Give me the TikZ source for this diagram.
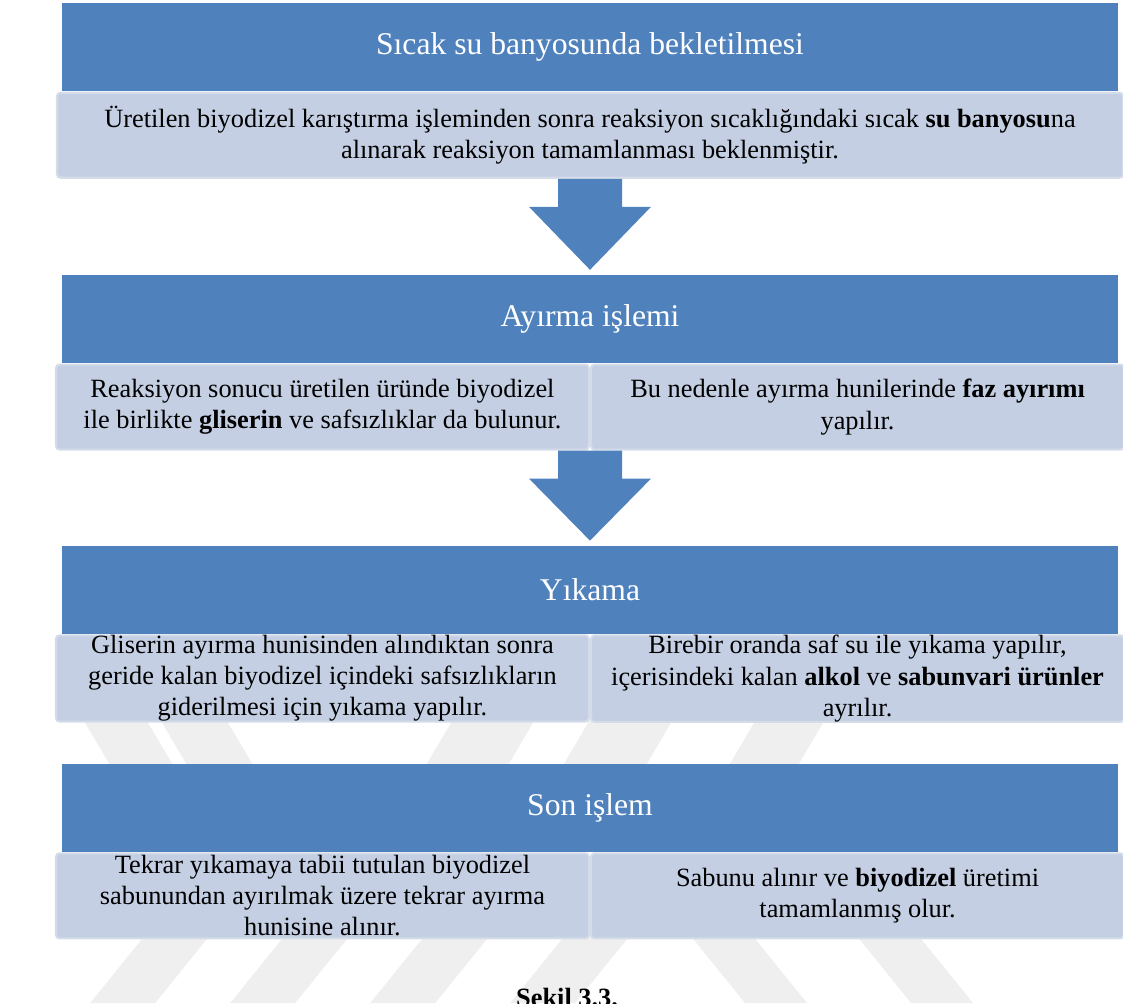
\documentclass[tikz,border=0pt]{standalone}
\usepackage{fontspec}
\setmainfont{Liberation Serif}
\usepackage{xcolor}
\usepackage{tikz}
\usetikzlibrary{positioning,calc}

\definecolor{hdrblue}{HTML}{4F81BD}
\definecolor{detfill}{HTML}{C4CFE3}
\definecolor{detline}{HTML}{D4DCEA}
\definecolor{wmgray}{HTML}{EFEFEF}

\begin{document}
\begin{tikzpicture}[hdr/.style={fill=hdrblue, text=white, minimum width=21.12cm, minimum height=1.76cm, inner sep=0pt, font=\fontsize{18}{22}\selectfont}, det/.style={fill=detfill, draw=detline, line width=1.2pt, rounded corners=2pt, align=center, minimum width=21.32cm, minimum height=1.70cm, inner sep=0pt, font=\fontsize{15}{17.7}\selectfont}, half/.style={det, minimum width=10.66cm}]
\useasboundingbox (0,0) rectangle (22.46,-20.06);
% watermark in the background
\begin{scope}[x=0.02cm, y=-0.02cm, wmgray]
\fill (60,680) -- (123,680) -- (173,765) -- (110,765) -- cycle;
\fill (137,680) -- (203,680) -- (253,765) -- (187,765) -- cycle;
\fill (476,680) -- (558,680) -- (508,765) -- (426,765) -- cycle;
\fill (613,680) -- (696,680) -- (646,765) -- (563,765) -- cycle;
\fill (779,680) -- (848,680) -- (798,765) -- (729,765) -- cycle;
\fill (145,935) -- (210,935) -- (155,1003) -- (90,1003) -- cycle;
\fill (285,935) -- (350,935) -- (295,1003) -- (230,1003) -- cycle;
\fill (425,935) -- (490,935) -- (435,1003) -- (370,1003) -- cycle;
\fill (565,935) -- (630,935) -- (575,1003) -- (510,1003) -- cycle;
\fill (690,935) -- (752,935) -- (807,1003) -- (745,1003) -- cycle;
\fill (856,935) -- (918,935) -- (973,1003) -- (911,1003) -- cycle;
\end{scope}

\node[hdr, anchor=north] (h1) at (11.8,-0.06) {Sıcak su banyosunda bekletilmesi};
\node[det, below=0pt of h1] (d1) {Üretilen biyodizel karıştırma işleminden sonra reaksiyon sıcaklığındaki sıcak \textbf{su banyosu}na\\alınarak reaksiyon tamamlanması beklenmiştir.};

\node[hdr, below=1.92cm of d1] (h2) {Ayırma işlemi};
\node[half, below left=0pt and 0pt of h2.south] (d2l) {Reaksiyon sonucu üretilen üründe biyodizel\\ile birlikte \textbf{gliserin} ve safsızlıklar da bulunur.};
\node[half, below right=0pt and 0pt of h2.south] (d2r) {Bu nedenle ayırma hunilerinde \textbf{faz ayırımı}\\yapılır.};

\node[hdr, below=1.90cm of d2l.south -| h2] (h3) {Yıkama};
\node[half, below left=0pt and 0pt of h3.south] (d3l) {Gliserin ayırma hunisinden alındıktan sonra\\geride kalan biyodizel içindeki safsızlıkların\\giderilmesi için yıkama yapılır.};
\node[half, below right=0pt and 0pt of h3.south] (d3r) {Birebir oranda saf su ile yıkama yapılır,\\içerisindeki kalan \textbf{alkol} ve \textbf{sabunvari ürünler}\\ayrılır.};

\node[hdr, below=0.82cm of d3l.south -| h3] (h4) {Son işlem};
\node[half, below left=0pt and 0pt of h4.south] (d4l) {Tekrar yıkamaya tabii tutulan biyodizel\\sabunundan ayırılmak üzere tekrar ayırma\\hunisine alınır.};
\node[half, below right=0pt and 0pt of h4.south] (d4r) {Sabunu alınır ve \textbf{biyodizel} üretimi\\tamamlanmış olur.};

% block arrows
\fill[hdrblue] ($(d1.south)+(-0.64,0)$) -- ++(1.28,0) -- ++(0,-0.56) -- ++(0.58,0) -- ($(h2.north)+(0,0.1)$) -- ($(d1.south)+(-1.22,-0.56)$) -- ++(0.58,0) -- cycle;
\fill[hdrblue] ($(d2l.south east)+(-0.64,0)$) -- ++(1.28,0) -- ++(0,-0.56) -- ++(0.58,0) -- ($(h3.north)+(0,0.1)$) -- ($(d2l.south east)+(-1.22,-0.56)$) -- ++(0.58,0) -- cycle;

\node[anchor=base west, font=\fontsize{15}{18}\selectfont\bfseries] (cap) at (10.2,-20.12) {Şekil 3.3.};
\end{tikzpicture}
\end{document}
